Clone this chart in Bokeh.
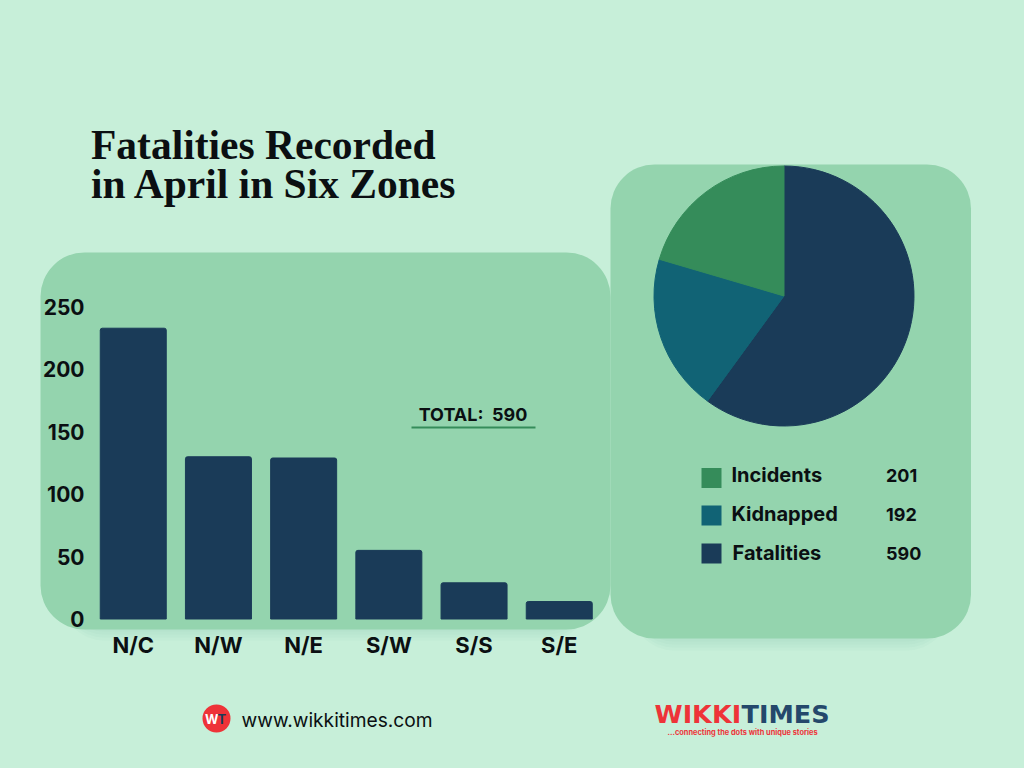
from bokeh.plotting import figure
from bokeh.models import Range1d, LinearAxis, FixedTicker, Label, BoxAnnotation
from bokeh.embed import file_html
from bokeh.resources import INLINE
import math

zones = ["N/C", "N/W", "N/E", "S/W", "S/S", "S/E"]
fatalities_by_zone = [233, 130, 129, 55, 29, 14]
y_ticks = [0, 50, 100, 150, 200, 250]
pie_labels = ["Fatalities", "Kidnapped", "Incidents"]
pie_values = [590, 192, 201]
title_lines = ["Fatalities Recorded", "in April in Six Zones"]
total_label = "TOTAL:\u00a0 590"
site = "www.wikkitimes.com"

BG = "#c7efd9"; PANEL = "#94d4ae"; NAVY = "#1a3b58"; TEAL = "#116375"; GREEN = "#358c5a"
RED = "#ee3338"
pie_colors = [NAVY, TEAL, GREEN]
SANS = "Inter"

W, H = 1008, 752
X0, DX = 132.75, 85.2   # first bar centre and bar spacing, px
Y0, DY = 618.5, 1.248   # y=0 position and px per unit
CX, CY, R = 783.5, 295.5, 130

p = figure(width=W, height=H, output_backend="svg", toolbar_location=None,
           x_range=Range1d((0 - X0) / DX, (W - X0) / DX),
           y_range=Range1d((Y0 - H) / DY, Y0 / DY),
           x_axis_type=None, y_axis_type=None,
           min_border=0, min_border_left=0, min_border_right=0, min_border_top=0, min_border_bottom=0)
p.background_fill_color = BG
p.border_fill_color = BG
p.outline_line_color = None
p.grid.visible = False

p.extra_x_ranges["px"] = Range1d(0, W)
p.extra_y_ranges["px"] = Range1d(H, 0)
p.extra_x_ranges["pie"] = Range1d(-CX, W - CX)
p.extra_y_ranges["pie"] = Range1d(CY - H, CY)


def box(l, t, r, b, color, radius=0, alpha=1.0):
    p.add_layout(BoxAnnotation(left=l, right=r, top=t, bottom=b, x_range_name="px", y_range_name="px",
                               fill_color=color, fill_alpha=alpha, line_color=None,
                               border_radius=radius, level="underlay", editable=False))


def label(x, y, text, size, font=SANS, style="bold", color="#0b0f12", align="left"):
    p.add_layout(Label(x=x, y=y - 0.37 * size, text=text, x_range_name="px", y_range_name="px",
                       text_font=font, text_font_size=f"{size}px", text_font_style=style,
                       text_color=color, text_align=align, text_baseline="alphabetic"))


# soft shadows below the panels
for d in (3, 6, 9, 12):
    box(60, 300, 590, 628 + d, "#4f9a72", 44, 0.03)
    box(630, 300, 950, 638 + d, "#4f9a72", 44, 0.03)

box(40, 252, 610, 629, PANEL, 44)
box(610, 164, 970.5, 638, PANEL, 44)

# bars
p.vbar(x=list(range(len(zones))), top=fatalities_by_zone, width=66 / DX, color=NAVY, border_radius=(2, 2, 0, 0))

# axes, fixed inside the frame
ax_y = LinearAxis(ticker=FixedTicker(ticks=y_ticks), fixed_location=(92 - X0) / DX)
ax_x = LinearAxis(ticker=FixedTicker(ticks=list(range(len(zones)))),
                  major_label_overrides={i: z for i, z in enumerate(zones)}, fixed_location=0)
for ax in (ax_x, ax_y):
    ax.axis_line_color = None
    ax.major_tick_line_color = None
    ax.minor_tick_line_color = None
    ax.major_label_text_font = SANS
    ax.major_label_text_font_style = "bold"
    ax.major_label_text_color = "#0b0f12"
ax_y.major_label_text_font_size = "21px"
ax_x.major_label_text_font_size = "22px"
ax_y.major_label_standoff = 2
ax_x.major_label_standoff = 7
p.add_layout(ax_y, "left")
p.add_layout(ax_x, "below")

# pie: clockwise from 12 o'clock
tot = sum(pie_values)
a = math.pi / 2
for v, c in zip(pie_values, pie_colors):
    b_ = a - 2 * math.pi * v / tot
    p.wedge(x=0, y=0, radius=R, start_angle=b_, end_angle=a, color=c,
            x_range_name="pie", y_range_name="pie")
    a = b_

# title
label(90.5, 160, title_lines[0], 41.5, font="Liberation Serif")
label(90.5, 199, title_lines[1], 41.5, font="Liberation Serif")

# total
label(472.5, 421, total_label, 18, align="center")
box(411, 426, 535, 428, GREEN)

# legend
rows = [(pie_labels[2], pie_values[2], GREEN, 731, 467.5, 481.5), (pie_labels[1], pie_values[1], TEAL, 731, 505, 520.5),
        (pie_labels[0], pie_values[0], NAVY, 732, 543, 559.5)]
for name, val, col, x, top, base in rows:
    box(701, top, 721, top + 20, col)
    label(x, base, name, 20)
    label(885.5, base, str(val), 18)

# footer
box(202, 704, 230, 732, RED, 14)
label(204.5, 723, "W", 13, color="#ffffff")
label(217, 723, "T", 13, color="#1a3b58")
label(241, 727, site, 19.2, style="normal")
label(654, 723, "WIKKI", 25.5, font="DejaVu Sans", color=RED)
label(741, 723, "TIMES", 25.5, font="DejaVu Sans", color="#24486b")
label(667, 735, "...connecting the dots with unique stories", 7.4, color=RED)

html = file_html(p, INLINE)
html = html.replace("<head>", f"<head><style>html,body{{background:{BG};}}</style>", 1)
open("out.html", "w").write(html)
